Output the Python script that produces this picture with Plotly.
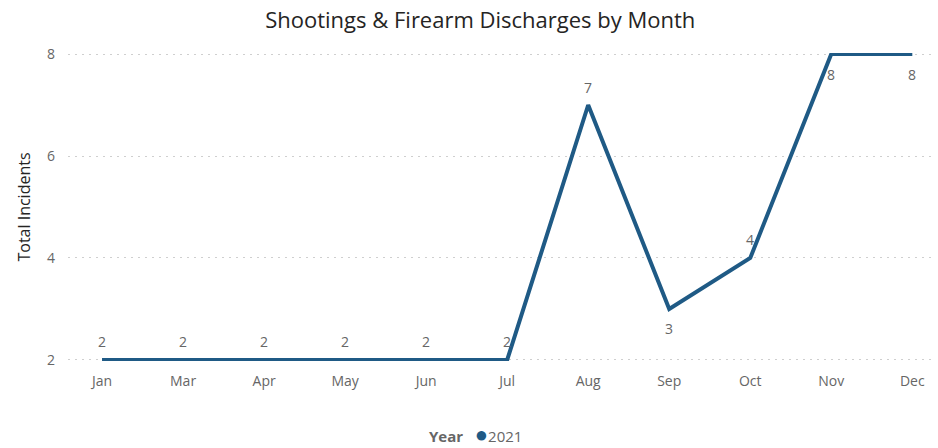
import plotly.graph_objects as go

months = ["Jan", "Mar", "Apr", "May", "Jun", "Jul", "Aug", "Sep", "Oct", "Nov", "Dec"]
incidents = [2, 2, 2, 2, 2, 2, 7, 3, 4, 8, 8]
label_above = [True, True, True, True, True, True, True, False, True, False, False]
y_ticks = [2, 4, 6, 8]
series_name = "2021"
legend_title = "Year"

line_color = "#1F5A85"
text_color = "#666666"

fig = go.Figure()
fig.add_trace(go.Scatter(
    x=months, y=incidents, mode="lines", name=series_name,
    line=dict(color=line_color, width=4),
    cliponaxis=False, showlegend=False,
))

for m, v, above in zip(months, incidents, label_above):
    fig.add_annotation(
        x=m, y=v, text=str(v), showarrow=False,
        yshift=18 if above else -20,
        font=dict(family="Open Sans", size=14, color=text_color),
    )

# legend built from text
fig.add_annotation(
    xref="paper", yref="paper", x=0.47, y=-0.235, xanchor="center", yanchor="middle",
    showarrow=False,
    text=(f"<b>{legend_title}</b>   <span style='color:{line_color};font-size:22px'>●</span>"
          f"{series_name}"),
    font=dict(family="Open Sans", size=15, color=text_color),
)

fig.update_layout(
    width=938, height=448,
    margin=dict(l=68, r=3, t=53, b=87, autoexpand=False),
    paper_bgcolor="white", plot_bgcolor="white",
    showlegend=False,
    title=dict(text="Shootings & Firearm Discharges by Month", x=0.512, xanchor="center",
               y=0.955, yanchor="middle",
               font=dict(family="Open Sans", size=22, color="#252423")),
    xaxis=dict(type="category", range=[-0.42, 10.28], showgrid=False, zeroline=False,
               showline=False, ticks="", ticklabelstandoff=10,
               tickfont=dict(family="Open Sans", size=14, color=text_color)),
    yaxis=dict(range=[1.98, 8.02], tickvals=y_ticks, showgrid=True, gridcolor="#CFCFCF",
               griddash="2px,5px", gridwidth=1, zeroline=False, showline=False,
               ticks="", ticklabelstandoff=12, automargin=False,
               tickfont=dict(family="Open Sans", size=14, color=text_color),
               title=dict(text="Total Incidents", standoff=12,
                          font=dict(family="Open Sans", size=16, color="#252423"))),
)

fig.write_html("out.html", config={"displayModeBar": False},
               post_script="document.body.style.margin='0';")
